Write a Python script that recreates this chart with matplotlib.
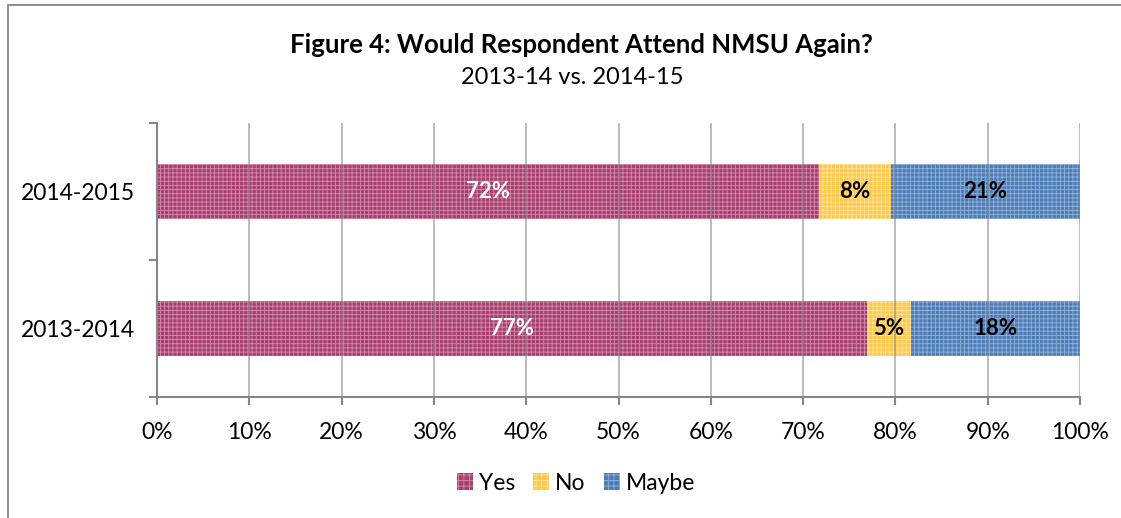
import matplotlib
matplotlib.use("Agg")
import matplotlib.pyplot as plt
from matplotlib.patches import Rectangle, Patch
import numpy as np

plt.rcParams['font.family'] = ['Lato', 'DejaVu Sans']
plt.rcParams['hatch.linewidth'] = 0.6

categories = ["2013-2014", "2014-2015"]
series_names = ["Yes", "No", "Maybe"]
yes_vals = [76.9, 71.7]
no_vals = [4.8, 7.8]
maybe_vals = [18.3, 20.5]
labels = {
    "Yes": ["77%", "72%"],
    "No": ["5%", "8%"],
    "Maybe": ["18%", "21%"],
}
xtick_labels = ["0%", "10%", "20%", "30%", "40%", "50%", "60%", "70%", "80%", "90%", "100%"]

face_colors = {"Yes": "#A6416F", "No": "#FFC84A", "Maybe": "#4E7DB6"}
hatch_colors = {"Yes": "#D78AAE", "No": "#FFE39A", "Maybe": "#8FB2DA"}
text_colors = {"Yes": "white", "No": "black", "Maybe": "black"}
gray = '#868686'

fig = plt.figure(figsize=(11.21, 5.18), dpi=100)
ax = fig.add_axes([157/1121, 1-397/518, (1080-157)/1121, (397-123)/518])

y = np.arange(len(categories))
left = np.zeros(len(categories))
for name, vals in zip(series_names, [yes_vals, no_vals, maybe_vals]):
    bars = ax.barh(y, vals, left=left, height=0.4, color=face_colors[name],
                   edgecolor=hatch_colors[name], linewidth=0, hatch='++++',
                   zorder=2, label=name)
    for i, b in enumerate(bars):
        ax.text(left[i] + vals[i]/2, y[i], labels[name][i], ha='center', va='center',
                color=text_colors[name], fontsize=16, fontweight='bold', zorder=4)
    left = left + np.array(vals)

ax.set_xlim(0, 100)
ax.set_ylim(-0.5, 1.5)
ax.set_xticks(np.arange(0, 101, 10))
ax.set_xticklabels(xtick_labels, fontsize=16.5)
ax.tick_params(axis='x', length=6, width=1.5, color=gray, pad=12)
ax.set_yticks(y)
ax.set_yticklabels(categories, fontsize=16.5)
ax.set_yticks([-0.5, 0.5, 1.5], minor=True)
ax.tick_params(axis='y', which='major', length=0, pad=16)
ax.tick_params(axis='y', which='minor', length=6, color=gray, width=1.5)
for x in np.arange(10, 101, 10):
    ax.axvline(x, color=gray, linewidth=1.3, zorder=3, alpha=0.6)
for s in ['top', 'right']:
    ax.spines[s].set_visible(False)
for s in ['left', 'bottom']:
    ax.spines[s].set_color(gray)
    ax.spines[s].set_linewidth(1.5)
    ax.spines[s].set_zorder(3)

fig.text(581/1121, 1-45/518, "Figure 4: Would Respondent Attend NMSU Again?",
         ha='center', va='center', fontsize=18.5, fontweight='bold')
fig.text(572/1121, 1-77/518, "2013-14 vs. 2014-15", ha='center', va='center', fontsize=17)

handles = [Patch(facecolor=face_colors[n], edgecolor=hatch_colors[n], hatch='+++', linewidth=0)
           for n in series_names]
fig.legend(handles, series_names, loc='center', bbox_to_anchor=(576/1121, 1-483/518),
           ncol=3, frameon=False, fontsize=16.5, handlelength=0.7, handleheight=0.7,
           handletextpad=0.25, columnspacing=0.8)

fig.patches.append(Rectangle((8/1121, -0.05), 1.2, 1.05 - 5/518, transform=fig.transFigure,
                             fill=False, edgecolor=gray, linewidth=1.3))

fig.savefig("out.png", dpi=100)
